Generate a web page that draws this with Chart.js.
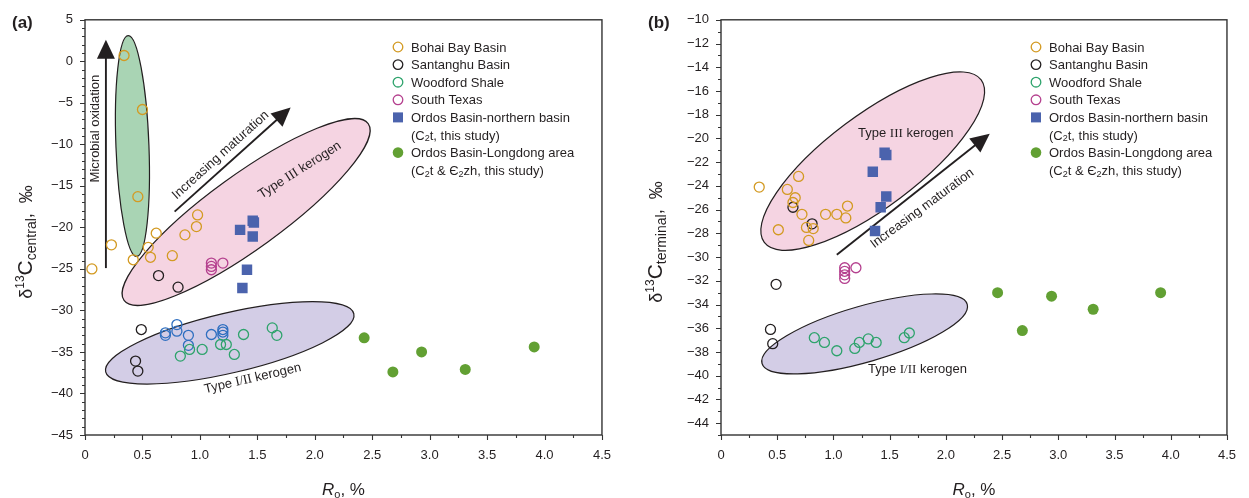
<!DOCTYPE html>
<html>
<head>
<meta charset="utf-8">
<script src="https://cdn.jsdelivr.net/npm/chart.js@4.4.1/dist/chart.umd.min.js"></script>
<style>
  html, body { margin: 0; padding: 0; background: #fff; }
  #wrap { position: relative; width: 1249px; height: 498px; }
  #wrap canvas { position: absolute; top: 0; }
</style>
</head>
<body>
<div id="wrap">
  <canvas id="chartA" width="624" height="498" style="left:0"></canvas>
  <canvas id="chartB" width="625" height="498" style="left:624px"></canvas>
</div>
<script>
// ---- data: [Ro %, d13C permil] ----
// (a) d13C central
const bohaiCentral = [[0.06, -25.0], [0.23, -22.1], [0.34, 0.7], [0.42, -23.9], [0.46, -16.3], [0.50, -5.8],
  [0.55, -22.4], [0.57, -23.6], [0.62, -20.7], [0.76, -23.4], [0.87, -20.9], [0.97, -19.9], [0.98, -18.5]];
const santanghuCentral = [[0.64, -25.8], [0.81, -27.2], [0.49, -32.3], [0.44, -36.1], [0.46, -37.3]];
const woodfordCentral = [[0.83, -35.5], [0.91, -34.7], [1.02, -34.7], [1.18, -34.1], [1.23, -34.1],
  [1.30, -35.3], [1.38, -32.9], [1.63, -32.1], [1.67, -33.0]];
const texasCentral = [[1.1, -24.3], [1.1, -24.7], [1.1, -25.1], [1.2, -24.3]];
const blueCentral = [[0.7, -32.7], [0.7, -33.0], [0.8, -31.7], [0.8, -32.5], [0.9, -33.0], [0.9, -34.2],
  [1.1, -32.9], [1.2, -32.3], [1.2, -32.6], [1.2, -33.0]];
const northCentral = [[1.35, -20.3], [1.46, -19.2], [1.47, -19.4], [1.46, -21.1], [1.41, -25.1], [1.37, -27.3]];
const longdongCentral = [[2.43, -33.3], [2.68, -37.4], [2.93, -35.0], [3.31, -37.1], [3.91, -34.4]];

// (b) d13C terminal
const bohaiTerminal = [[0.34, -24.1], [0.51, -27.7], [0.59, -24.3], [0.64, -25.4], [0.66, -25.0], [0.69, -23.2],
  [0.72, -26.4], [0.76, -27.5], [0.78, -28.6], [0.82, -27.6], [0.93, -26.4], [1.03, -26.4], [1.11, -26.7], [1.125, -25.7]];
const santanghuTerminal = [[0.64, -25.8], [0.81, -27.2], [0.49, -32.3], [0.44, -36.1], [0.46, -37.3]];
const woodfordTerminal = [[0.83, -36.8], [0.92, -37.2], [1.03, -37.9], [1.19, -37.7], [1.23, -37.2],
  [1.31, -36.9], [1.38, -37.2], [1.63, -36.8], [1.675, -36.4]];
const texasTerminal = [[1.1, -30.9], [1.1, -31.2], [1.1, -31.5], [1.1, -31.8], [1.2, -30.9]];
const northTerminal = [[1.455, -21.2], [1.47, -21.4], [1.35, -22.8], [1.47, -24.9], [1.42, -25.8], [1.37, -27.8]];
const longdongTerminal = [[2.46, -33.0], [2.68, -36.2], [2.94, -33.3], [3.31, -34.4], [3.91, -33.0]];

const xRange = [0, 4.5];
const yRangeA = [-45, 5];
const yRangeB = [-45, -10];

// ---- styles ----
const FAMILY = '"Liberation Sans", Arial, Helvetica, sans-serif';
const SERIF = '"Liberation Serif", "Times New Roman", serif';
const INK = '#231f20';
const font = (px, extra) => (extra ? extra + ' ' : '') + px + 'px ' + FAMILY;

const seriesStyle = {
  bohai: { color: '#d39a22', kind: 'open' },
  santanghu: { color: '#231f20', kind: 'open' },
  woodford: { color: '#2ea36c', kind: 'open' },
  texas: { color: '#b5418f', kind: 'open' },
  blue: { color: '#2f6fc0', kind: 'open' },
  north: { color: '#4b63ad', kind: 'square' },
  longdong: { color: '#62a033', kind: 'dot' },
};

const legendItems = [
  { key: 'bohai', lines: [[['Bohai Bay Basin']]] },
  { key: 'santanghu', lines: [[['Santanghu Basin']]] },
  { key: 'woodford', lines: [[['Woodford Shale']]] },
  { key: 'texas', lines: [[['South Texas']]] },
  { key: 'north', lines: [[['Ordos Basin-northern basin']], [['(C'], ['2', 'sub'], ['t, this study)']]] },
  { key: 'longdong', lines: [[['Ordos Basin-Longdong area']],
    [['(C'], ['2', 'sub'], ['t & \u0404'], ['2', 'sub'], ['zh, this study)']]] },
];

function toDataset(key, pts) {
  const s = seriesStyle[key];
  const ds = {
    label: key,
    data: pts.map(([x, y]) => ({ x, y })),
    pointBorderColor: s.color,
    pointHoverRadius: 0,
  };
  if (s.kind === 'open') {
    Object.assign(ds, { pointStyle: 'circle', pointRadius: 5, pointBorderWidth: 1.3,
      pointBackgroundColor: 'rgba(0,0,0,0)' });
  } else if (s.kind === 'square') {
    Object.assign(ds, { pointStyle: 'rect', pointRadius: 7.4, pointBorderWidth: 0,
      pointBackgroundColor: s.color });
  } else {
    Object.assign(ds, { pointStyle: 'circle', pointRadius: 5.5, pointBorderWidth: 0,
      pointBackgroundColor: s.color });
  }
  return ds;
}

function drawRuns(ctx, runs, x, y, deg, align) {
  ctx.save();
  ctx.translate(x, y);
  ctx.rotate(deg * Math.PI / 180);
  let total = 0;
  const widths = runs.map(r => { ctx.font = r.font; const w = ctx.measureText(r.t).width; total += w; return w; });
  let u = align === 'left' ? 0 : -total / 2;
  runs.forEach((r, i) => {
    ctx.font = r.font;
    ctx.fillText(r.t, u, r.dy || 0);
    u += widths[i];
  });
  ctx.restore();
}

function legendRuns(parts) {
  return parts.map(([t, kind]) => kind === 'sub'
    ? { t, font: font(9), dy: 3 }
    : { t, font: font(13) });
}

function drawMarker(ctx, key, x, y) {
  const s = seriesStyle[key];
  ctx.save();
  if (s.kind === 'open') {
    ctx.strokeStyle = s.color; ctx.lineWidth = 1.3;
    ctx.beginPath(); ctx.arc(x, y, 4.8, 0, Math.PI * 2); ctx.stroke();
  } else if (s.kind === 'square') {
    ctx.fillStyle = s.color; ctx.fillRect(x - 5, y - 5, 10, 10);
  } else {
    ctx.fillStyle = s.color; ctx.beginPath(); ctx.arc(x, y, 5.3, 0, Math.PI * 2); ctx.fill();
  }
  ctx.restore();
}

function decorations(cfg) {
  return {
    id: 'decor' + cfg.letter,
    beforeDatasetsDraw(chart) {
      const ctx = chart.ctx;
      const sx = chart.scales.x, sy = chart.scales.y;
      const px = p => [sx.getPixelForValue(p[0]), sy.getPixelForValue(p[1])];
      // envelopes
      cfg.ellipses.forEach(e => {
        const [x1, y1] = px(e.from), [x2, y2] = px(e.to);
        ctx.save();
        ctx.beginPath();
        ctx.ellipse((x1 + x2) / 2, (y1 + y2) / 2, Math.hypot(x2 - x1, y2 - y1) / 2, e.half,
          Math.atan2(y2 - y1, x2 - x1), 0, Math.PI * 2);
        ctx.fillStyle = e.fill; ctx.fill();
        ctx.strokeStyle = INK; ctx.lineWidth = 1.2; ctx.stroke();
        ctx.restore();
      });
      // arrows
      cfg.arrows.forEach(a => {
        const [x1, y1] = px(a.from), [x2, y2] = px(a.to);
        const ang = Math.atan2(y2 - y1, x2 - x1);
        const hl = 19, hw = 9;
        const bx = x2 - hl * Math.cos(ang), by = y2 - hl * Math.sin(ang);
        ctx.save();
        ctx.strokeStyle = INK; ctx.fillStyle = INK; ctx.lineWidth = 1.9;
        ctx.beginPath(); ctx.moveTo(x1, y1); ctx.lineTo(bx + 2 * Math.cos(ang), by + 2 * Math.sin(ang)); ctx.stroke();
        ctx.beginPath();
        ctx.moveTo(x2, y2);
        ctx.lineTo(bx + hw * Math.sin(ang), by - hw * Math.cos(ang));
        ctx.lineTo(bx - hw * Math.sin(ang), by + hw * Math.cos(ang));
        ctx.closePath(); ctx.fill();
        ctx.restore();
      });
      // labels on the plot
      ctx.save();
      ctx.fillStyle = INK; ctx.textBaseline = 'middle';
      cfg.notes.forEach(n => {
        const [x, y] = px(n.at);
        const runs = n.runs.map(([t, kind]) => ({ t, font: kind === 'serif' ? '13px ' + SERIF : font(13) }));
        drawRuns(ctx, runs, x, y, n.deg);
      });
      ctx.restore();
    },
    afterDraw(chart) {
      const ctx = chart.ctx;
      const { left, right, top, bottom } = chart.chartArea;
      const sx = chart.scales.x, sy = chart.scales.y;
      ctx.save();
      ctx.strokeStyle = '#333'; ctx.lineWidth = 1.4;
      ctx.strokeRect(left, top, right - left, bottom - top);
      ctx.lineWidth = 1.1;
      ctx.beginPath();
      sy.ticks.forEach(t => {
        const y = Math.round(sy.getPixelForValue(t.value)) + 0.5;
        const len = t.label !== '' ? 5 : 3;
        ctx.moveTo(left - len, y); ctx.lineTo(left, y);
      });
      sx.ticks.forEach(t => {
        const x = Math.round(sx.getPixelForValue(t.value)) + 0.5;
        const len = t.label !== '' ? 5 : 3;
        ctx.moveTo(x, bottom); ctx.lineTo(x, bottom + len);
      });
      ctx.stroke();

      // legend
      ctx.fillStyle = INK; ctx.textBaseline = 'middle';
      let row = 0;
      legendItems.forEach(item => {
        const y0 = cfg.legendTop + row * 17.6;
        drawMarker(ctx, item.key, left + cfg.legendX, y0 - 1);
        item.lines.forEach((parts, i) => {
          drawRuns(ctx, legendRuns(parts), left + cfg.legendX + 13, y0 + i * 17.6, 0, 'left');
        });
        row += item.lines.length;
      });

      // axis titles
      ctx.textBaseline = 'alphabetic';
      drawRuns(ctx, [
        { t: 'R', font: font(17, 'italic') },
        { t: 'o', font: font(11), dy: 3 },
        { t: ', %', font: font(17) },
      ], (left + right) / 2, 494.5, 0);
      drawRuns(ctx, [
        { t: '\u03b4', font: font(18) },
        { t: '13', font: font(12), dy: -8 },
        { t: 'C', font: font(21) },
        { t: cfg.sub, font: font(14), dy: 4 },
        { t: ',  \u2030', font: font(18) },
      ], left - cfg.titleOffset, 242, -90);

      // panel letter
      ctx.font = font(17, 'bold');
      ctx.textAlign = 'left';
      ctx.fillText(cfg.letter, cfg.letterX, 28);
      ctx.restore();
    },
  };
}

const fmtX = v => (v === 0 ? '0' : v.toFixed(1));
const fmtY = v => (v === 0 ? '0' : v < 0 ? '\u2212' + Math.abs(v) : String(v));

function makeChart(id, cfg) {
  return new Chart(document.getElementById(id), {
    type: 'scatter',
    data: { datasets: cfg.series.map(([key, pts]) => toDataset(key, pts)) },
    options: {
      responsive: false,
      animation: false,
      devicePixelRatio: 1,
      layout: { padding: { top: 18, right: cfg.padRight, left: 0, bottom: 0 } },
      plugins: { legend: { display: false }, tooltip: { enabled: false } },
      events: [],
      scales: {
        x: {
          type: 'linear', min: xRange[0], max: xRange[1],
          grid: { display: false, drawTicks: false }, border: { display: false },
          ticks: {
            stepSize: 0.25, maxTicksLimit: 100, autoSkip: false, maxRotation: 0, minRotation: 0,
            padding: 13, color: INK, font: { family: FAMILY, size: 13 },
            callback: v => (Math.abs(v * 2 - Math.round(v * 2)) < 1e-6 ? fmtX(v) : ''),
          },
          afterFit: s => { s.height = 63; },
        },
        y: {
          type: 'linear', min: cfg.yRange[0], max: cfg.yRange[1],
          grid: { display: false, drawTicks: false }, border: { display: false },
          ticks: {
            stepSize: 1, maxTicksLimit: 100, autoSkip: false,
            padding: 12, color: INK, font: { family: FAMILY, size: 13 },
            callback: v => (v % cfg.yLabelEvery === 0 && v !== cfg.yRange[0] || (cfg.yLabelMin && v === cfg.yRange[0]) ? fmtY(v) : ''),
          },
          afterFit: s => { s.width = cfg.yAxisWidth; },
        },
      },
    },
    plugins: [decorations(cfg)],
  });
}

makeChart('chartA', {
  letter: '(a)', letterX: 12,
  yRange: yRangeA, yLabelEvery: 5, yLabelMin: true, yAxisWidth: 85, padRight: 21,
  sub: 'central', titleOffset: 53,
  legendX: 313, legendTop: 48,
  series: [['bohai', bohaiCentral], ['santanghu', santanghuCentral], ['woodford', woodfordCentral],
    ['texas', texasCentral], ['blue', blueCentral], ['north', northCentral], ['longdong', longdongCentral]],
  ellipses: [
    { from: [0.376, 3.1], to: [0.45, -23.5], half: 16.5, fill: '#a9d4b4' },
    { from: [0.34, -28.8], to: [2.465, -7.5], half: 37, fill: '#f5d4e2' },
    { from: [0.18, -37.4], to: [2.34, -30.4], half: 30, fill: '#d3cde6' },
  ],
  arrows: [
    { from: [0.182, -24.9], to: [0.182, 2.6] },
    { from: [0.78, -18.1], to: [1.79, -5.55] },
  ],
  notes: [
    { runs: [['Microbial oxidation']], at: [0.095, -8.1], deg: -90 },
    { runs: [['Increasing maturation']], at: [1.18, -11.3], deg: -42 },
    { runs: [['Type '], ['III', 'serif'], [' kerogen']], at: [1.87, -13.1], deg: -32.5 },
    { runs: [['Type '], ['I/II', 'serif'], [' kerogen']], at: [1.46, -38.2], deg: -13 },
  ],
});

makeChart('chartB', {
  letter: '(b)', letterX: 24,
  yRange: yRangeB, yLabelEvery: 2, yLabelMin: false, yAxisWidth: 97, padRight: 10,
  sub: 'terminal', titleOffset: 59,
  legendX: 315, legendTop: 48,
  series: [['bohai', bohaiTerminal], ['santanghu', santanghuTerminal], ['woodford', woodfordTerminal],
    ['texas', texasTerminal], ['north', northTerminal], ['longdong', longdongTerminal]],
  ellipses: [
    { from: [0.385, -28.77], to: [2.314, -15.06], half: 46, fill: '#f5d4e2' },
    { from: [0.365, -38.97], to: [2.19, -33.99], half: 28, fill: '#d3cde6' },
  ],
  arrows: [
    { from: [1.03, -29.8], to: [2.39, -19.6] },
  ],
  notes: [
    { runs: [['Increasing maturation']], at: [1.79, -25.9], deg: -36.5 },
    { runs: [['Type '], ['III', 'serif'], [' kerogen']], at: [1.643, -19.56], deg: 0 },
    { runs: [['Type '], ['I/II', 'serif'], [' kerogen']], at: [1.747, -39.5], deg: 0 },
  ],
});
</script>
</body>
</html>
